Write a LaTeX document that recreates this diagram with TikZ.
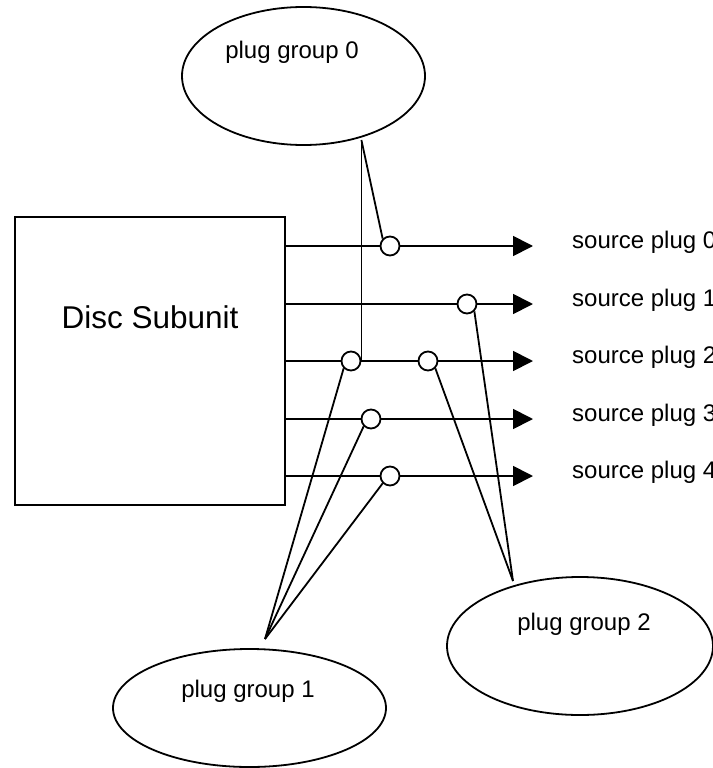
\documentclass[tikz,border=0pt]{standalone}
\usepackage{fontspec}
\setmainfont{Liberation Sans}
\usetikzlibrary{shapes.geometric,arrows.meta}
\begin{document}
\begin{tikzpicture}[x=1pt,y=-1pt,
  wire/.style={line width=1.8pt},
  plugpt/.style={circle,draw,fill=white,line width=1.8pt,minimum size=19pt,inner sep=0pt},
  group/.style={ellipse,draw,line width=1.8pt,inner sep=0pt},
  lbl/.style={font=\fontsize{24}{28}\selectfont,inner sep=0pt},
  outarrow/.style={wire,-{Triangle[length=20pt,width=20pt]}}]
\useasboundingbox (0,0) rectangle (712,768);

% plug groups
\node[group,minimum width=243pt,minimum height=138pt] (g0) at (303.5,76) {};
\node[group,minimum width=273pt,minimum height=118pt] (g1) at (249.5,708) {};
\node[group,minimum width=266pt,minimum height=138pt] (g2) at (580,646) {};
\node[lbl,anchor=base] (g0t) at (292,59) {plug group 0};
\node[lbl,anchor=base] (g1t) at (248,697) {plug group 1};
\node[lbl,anchor=base] (g2t) at (584,630) {plug group 2};

% subunit
\node[draw,line width=2.7pt,minimum width=270pt,minimum height=288pt,inner sep=0pt] (disc) at (150,361) {};
\node[font=\fontsize{31.5}{36}\selectfont,anchor=base,inner sep=0pt] (disct) at (150,328) {Disc Subunit};

% connection points on the plug lines
\node[plugpt] (c0)  at (390,246) {};
\node[plugpt] (c1)  at (467,304) {};
\node[plugpt] (c2a) at (351,361) {};
\node[plugpt] (c2b) at (428,361) {};
\node[plugpt] (c3)  at (371,419) {};
\node[plugpt] (c4)  at (390,476) {};

% arrow ends
\coordinate (t0) at (533,246);
\coordinate (t1) at (533,304);
\coordinate (t2) at (533,361);
\coordinate (t3) at (533,419);
\coordinate (t4) at (533,476);

% source plug labels
\node[lbl,anchor=base west] (s0) at (572,248.5) {source plug 0};
\node[lbl,anchor=base west] (s1) at (572,306.5) {source plug 1};
\node[lbl,anchor=base west] (s2) at (572,363.5) {source plug 2};
\node[lbl,anchor=base west] (s3) at (572,421.5) {source plug 3};
\node[lbl,anchor=base west] (s4) at (572,478.5) {source plug 4};

% source plug lines
\draw[wire] (disc.east |- c0) -- (c0.west);
\draw[outarrow] (c0.east) -- (t0);
\draw[wire] (disc.east |- c1) -- (c1.west);
\draw[outarrow] (c1.east) -- (t1);
\draw[wire] (disc.east |- c2a) -- (c2a.west);
\draw[wire] (c2a.east) -- (c2b.west);
\draw[outarrow] (c2b.east) -- (t2);
\draw[wire] (disc.east |- c3) -- (c3.west);
\draw[outarrow] (c3.east) -- (t3);
\draw[wire] (disc.east |- c4) -- (c4.west);
\draw[outarrow] (c4.east) -- (t4);

% group membership connectors
\path (c2a.east) ++(0,-221) coordinate (j0);
\coordinate (j1) at (265,639);
\coordinate (j2) at (513,581);
\draw[wire] (j0) -- (c2a.east);
\draw[wire] (j0) -- (c0.north west);
\draw[wire] (j1) -- (c2a.south west);
\draw[wire] (j1) -- (c3.south west);
\draw[wire] (j1) -- (c4.south west);
\draw[wire] (j2) -- (c1.south east);
\draw[wire] (j2) -- (c2b.south east);
\end{tikzpicture}
\end{document}
